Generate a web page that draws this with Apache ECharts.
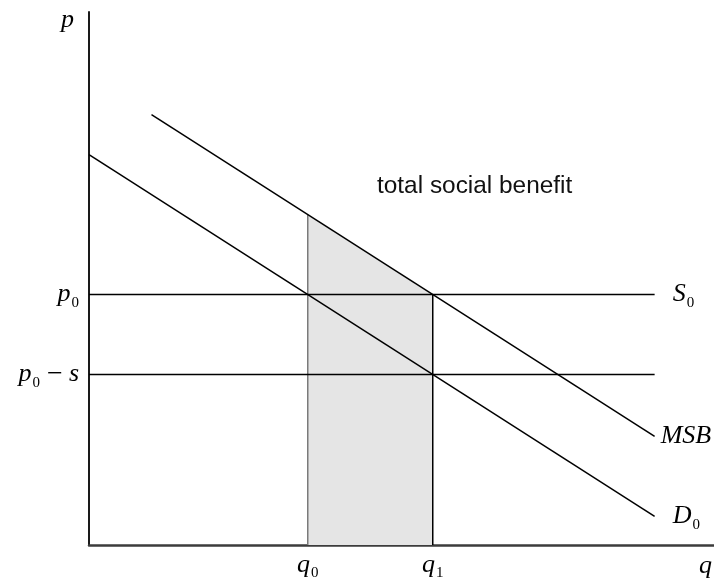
<!DOCTYPE html>
<html>
<head>
<meta charset="utf-8">
<script src="https://cdn.jsdelivr.net/npm/echarts@6/dist/echarts.min.js"></script>
<style>
  html, body { margin: 0; padding: 0; background: #fff; }
  #chart { width: 714px; height: 580px; }
</style>
</head>
<body>
<div id="chart"></div>
<script>
// Quantity and price levels marked on the axes
const qValues = [35, 55];
const qLabels = ['q0', 'q1'];
const pValues = [47, 32];
const pLabels = ['p0', 'p0 − s'];

// Curves, as end points [q, p]
const demandD0 = [[0, 73.25], [90.5, 5.375]];
const msbCurve = [[10, 80.75], [90.5, 20.375]];
const supplyS0 = [[0, 47], [90.5, 47]];
const subsidisedPrice = [[0, 32], [90.5, 32]];

// Top edge of the total social benefit area (MSB between q0 and q1)
const benefitTop = [[35, 62], [55, 47]];
const benefitLeft = [[35, 0], [35, 62]];
const benefitRight = [[55, 0], [55, 47]];

const SERIF = '"Liberation Serif", "Times New Roman", serif';

const richMath = {
  i: { fontFamily: SERIF, fontStyle: 'italic', fontSize: 26, lineHeight: 30, color: '#000' },
  m: { fontFamily: SERIF, fontSize: 28, lineHeight: 30, padding: [0, 6, 0, 7], color: '#000' },
  s: { fontFamily: SERIF, fontSize: 15, lineHeight: 15, padding: [17, 0, 0, 1], color: '#000' }
};

const mathText = {
  'q0': '{i|q}{s|0}',
  'q1': '{i|q}{s|1}',
  'p0': '{i|p}{s|0}',
  'p0 − s': '{i|p}{s|0}{m|−}{i|s}',
  'S0': '{i|S}{s|0}',
  'D0': '{i|D}{s|0}',
  'MSB': '{i|MSB}'
};

function lineSeries(name, data, color, width, extra) {
  return Object.assign({
    name: name,
    type: 'line',
    data: data,
    symbol: 'none',
    silent: true,
    animation: false,
    lineStyle: { color: color, width: width },
    z: 3
  }, extra || {});
}

function endLabel(key, distance) {
  return {
    show: true,
    distance: distance,
    formatter: () => mathText[key],
    rich: richMath
  };
}

const chart = echarts.init(document.getElementById('chart'), null, { renderer: 'canvas' });

chart.setOption({
  animation: false,
  backgroundColor: '#fff',
  grid: { left: 89, right: 0, top: 12, bottom: 35, outerBoundsMode: 'none' },
  xAxis: {
    type: 'value',
    min: 0,
    max: 100,
    name: 'q',
    nameLocation: 'end',
    nameGap: 0,
    nameTextStyle: {
      fontFamily: SERIF, fontStyle: 'italic', fontSize: 26, color: '#000',
      align: 'right', verticalAlign: 'top', lineHeight: 26, padding: [8, 2, 0, 0]
    },
    axisLine: { show: true, lineStyle: { color: '#3c3c3c', width: 2.5 } },
    axisTick: { show: false },
    splitLine: { show: false },
    axisLabel: {
      show: true,
      customValues: qValues,
      margin: 5,
      formatter: v => mathText[qLabels[qValues.indexOf(v)]],
      rich: richMath
    }
  },
  yAxis: {
    type: 'value',
    min: 0,
    max: 100,
    name: 'p',
    nameLocation: 'end',
    nameGap: -8,
    nameTextStyle: {
      fontFamily: SERIF, fontStyle: 'italic', fontSize: 26, color: '#000',
      align: 'right', verticalAlign: 'middle', padding: [0, 15, 0, 0]
    },
    axisLine: { show: true, lineStyle: { color: '#1a1a1a', width: 2 } },
    axisTick: { show: false },
    splitLine: { show: false },
    axisLabel: {
      show: true,
      customValues: pValues,
      margin: 10,
      formatter: v => mathText[pLabels[pValues.indexOf(v)]],
      rich: richMath
    }
  },
  graphic: [{
    type: 'text',
    left: 377,
    top: 174,
    silent: true,
    style: {
      text: 'total social benefit',
      fontFamily: '"Liberation Sans", Arial, sans-serif',
      fontSize: 24.4,
      fill: '#111'
    }
  }],
  series: [
    lineSeries('benefit', benefitTop, 'transparent', 0, {
      areaStyle: { color: '#e5e5e5', opacity: 1, origin: 'start' },
      z: 1
    }),
    lineSeries('q0 edge', benefitLeft, '#7a7a7a', 1.5, { z: 2 }),
    lineSeries('q1 edge', benefitRight, '#000', 1.5, { z: 2 }),
    lineSeries('S0', supplyS0, '#000', 1.5, { endLabel: endLabel('S0', 18) }),
    lineSeries('p0 - s', subsidisedPrice, '#000', 1.5),
    lineSeries('D0', demandD0, '#000', 1.5, { endLabel: endLabel('D0', 18) }),
    lineSeries('MSB', msbCurve, '#000', 1.5, { endLabel: endLabel('MSB', 6) })
  ]
});
</script>
</body>
</html>
